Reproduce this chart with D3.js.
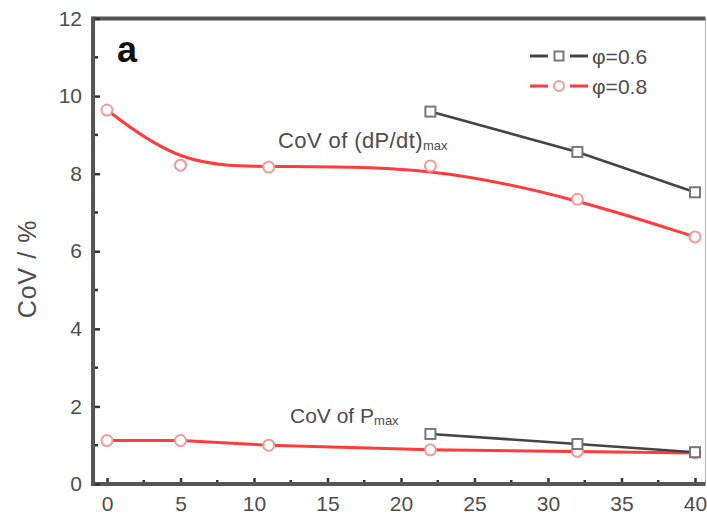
<!DOCTYPE html>
<html><head><meta charset="utf-8">
<script src="https://cdn.jsdelivr.net/npm/d3@7"></script>
<style>body{margin:0;background:#fff}svg{display:block}text{font-family:Arial,"Liberation Sans",sans-serif}</style>
</head><body><svg id="c" width="707" height="517"></svg>
<script>
const xTicks = [0,5,10,15,20,25,30,35,40];
const yTicks = [0,2,4,6,8,10,12];
const dpX06 = [22,32,40];
const dpY06 = [9.6,8.56,7.52];
const dpX08 = [0,5,11,22,32,40];
const dpY08 = [9.64,8.22,8.17,8.2,7.34,6.37];
const pmX06 = [22,32,40];
const pmY06 = [1.29,1.03,0.82];
const pmX08 = [0,5,11,22,32,40];
const pmY08 = [1.12,1.12,1.0,0.88,0.84,0.8];
const legendLabels = ["\u03c6=0.6","\u03c6=0.8"];

const svg = d3.select("#c");
const x = d3.scaleLinear().domain([0,40]).range([107,695]);
const y = d3.scaleLinear().domain([0,12]).range([484,18.5]);
const xL = x(-0.95), xR = 705.5;
const axisCol = "#555";
const textCol = "#4d4d4d";

// frame
svg.append("line").attr("x1",xR).attr("x2",xR).attr("y1",y(12)).attr("y2",y(0)).attr("stroke","#bbb").attr("stroke-width",1.2);
svg.append("line").attr("x1",xL).attr("x2",xR).attr("y1",y(12)).attr("y2",y(12)).attr("stroke",axisCol).attr("stroke-width",4);

// x axis
const gx = svg.append("g").attr("transform",`translate(0,${y(0)})`)
  .call(d3.axisBottom(x).tickValues(xTicks).tickSize(-6).tickPadding(12).tickFormat(d3.format("d")));
gx.select(".domain").remove();
gx.selectAll(".tick line").attr("stroke","#333").attr("stroke-width",2.5);
gx.selectAll("text").attr("font-size",21).attr("fill",textCol).attr("dy","0.71em");
svg.append("g").selectAll("line").data(d3.range(2.5,40,5)).join("line")
  .attr("x1",d=>x(d)).attr("x2",d=>x(d)).attr("y1",y(0)).attr("y2",y(0)-4).attr("stroke","#333").attr("stroke-width",2.5);
svg.append("line").attr("x1",xL-2).attr("x2",xR).attr("y1",y(0)).attr("y2",y(0)).attr("stroke",axisCol).attr("stroke-width",4);

// y axis
const gy = svg.append("g").attr("transform",`translate(${xL},0)`)
  .call(d3.axisLeft(y).tickValues(yTicks).tickSize(-7).tickPadding(11).tickFormat(d3.format("d")));
gy.select(".domain").remove();
gy.selectAll(".tick line").attr("stroke","#333").attr("stroke-width",2.5);
gy.selectAll("text").attr("font-size",21).attr("fill",textCol);
svg.append("g").selectAll("line").data(d3.range(1,12,2)).join("line")
  .attr("x1",xL).attr("x2",xL+5).attr("y1",d=>y(d)).attr("y2",d=>y(d)).attr("stroke","#333").attr("stroke-width",2.5);
svg.append("line").attr("x1",xL).attr("x2",xL).attr("y1",y(12)-2).attr("y2",y(0)+2).attr("stroke",axisCol).attr("stroke-width",4);

svg.append("text").attr("transform",`translate(36,269) rotate(-90)`).attr("text-anchor","middle")
  .attr("font-size",25).attr("letter-spacing",1).attr("fill",textCol).text("CoV / %");

const red = "#ff3b3b", redM = "#f59a9a", blk = "#444", blkM = "#777";
const linear = d3.line().x(d=>x(d[0])).y(d=>y(d[1]));
const basis = d3.line().x(d=>x(d[0])).y(d=>y(d[1])).curve(d3.curveBasis);
const z = (a,b)=>a.map((v,i)=>[v,b[i]]);

function series(pts, gen, col, mcol, shape, w){
  svg.append("path").datum(pts).attr("d",gen).attr("fill","none").attr("stroke",col).attr("stroke-width",w);
  const g = svg.append("g");
  if(shape==="c"){
    g.selectAll("circle").data(pts).join("circle").attr("cx",d=>x(d[0])).attr("cy",d=>y(d[1])).attr("r",5.5)
      .attr("fill","#fff").attr("stroke",mcol).attr("stroke-width",2);
  } else {
    g.selectAll("rect").data(pts).join("rect").attr("x",d=>x(d[0])-5).attr("y",d=>y(d[1])-5).attr("width",10).attr("height",10)
      .attr("fill","#fff").attr("stroke",mcol).attr("stroke-width",2);
  }
}
series(z(dpX08,dpY08), basis, red, redM, "c", 3);
series(z(pmX08,pmY08), linear, red, redM, "c", 3);
series(z(dpX06,dpY06), linear, blk, blkM, "s", 2.6);
series(z(pmX06,pmY06), linear, blk, blkM, "s", 2.6);

// annotations
const t1 = svg.append("text").attr("x",278).attr("y",148).attr("font-size",22).attr("letter-spacing",0.4).attr("fill",textCol);
t1.append("tspan").text("CoV of (dP/dt)");
t1.append("tspan").attr("font-size",13).attr("letter-spacing",0).attr("dy",2).text("max");
const t2 = svg.append("text").attr("x",290).attr("y",423).attr("font-size",21).attr("fill",textCol);
t2.append("tspan").text("CoV of P");
t2.append("tspan").attr("font-size",13).attr("dy",2).text("max");
svg.append("text").attr("x",117).attr("y",62).attr("font-size",36).attr("font-weight","bold").attr("fill","#111").text("a");

// legend
const leg = [{c:blk,m:blkM,s:"s",y:56},{c:red,m:redM,s:"c",y:86}];
leg.forEach((L,i)=>{
  svg.append("line").attr("x1",530).attr("x2",548).attr("y1",L.y).attr("y2",L.y).attr("stroke",L.c).attr("stroke-width",3);
  svg.append("line").attr("x1",570).attr("x2",588).attr("y1",L.y).attr("y2",L.y).attr("stroke",L.c).attr("stroke-width",3);
  if(L.s==="s") svg.append("rect").attr("x",554.5).attr("y",L.y-4.5).attr("width",9).attr("height",9).attr("fill","#fff").attr("stroke",L.m).attr("stroke-width",2);
  else svg.append("circle").attr("cx",559).attr("cy",L.y).attr("r",5).attr("fill","#fff").attr("stroke",L.m).attr("stroke-width",2);
  svg.append("text").attr("x",592).attr("y",L.y+8).attr("font-size",21).attr("fill",textCol).text(legendLabels[i]);
});
</script></body></html>
